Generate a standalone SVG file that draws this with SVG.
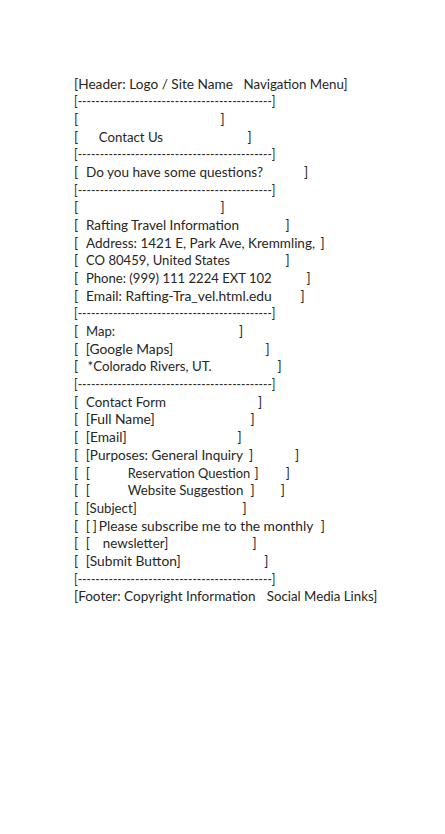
<svg xmlns="http://www.w3.org/2000/svg" width="445" height="834" viewBox="0 0 445 834">
<style>
text{font-family:Lato,"Open Sans","Liberation Sans",sans-serif;font-size:13.5px;fill:#262626;}
</style>
<rect width="445" height="834" fill="#ffffff"/>
<g id="header">
<text x="74" y="88.7" textLength="159" lengthAdjust="spacingAndGlyphs">[Header: Logo / Site Name</text>
<text x="243.5" y="88.7" textLength="104" lengthAdjust="spacingAndGlyphs">Navigation Menu]</text>
</g>
<g id="dividers">
<text x="74" y="106.4" textLength="201.5" lengthAdjust="spacingAndGlyphs">[--------------------------------------------]</text>
<text x="74" y="159.4" textLength="201.5" lengthAdjust="spacingAndGlyphs">[--------------------------------------------]</text>
<text x="74" y="194.7" textLength="201.5" lengthAdjust="spacingAndGlyphs">[--------------------------------------------]</text>
<text x="74" y="318.4" textLength="201.5" lengthAdjust="spacingAndGlyphs">[--------------------------------------------]</text>
<text x="74" y="389.1" textLength="201.5" lengthAdjust="spacingAndGlyphs">[--------------------------------------------]</text>
<text x="74" y="583.5" textLength="201.5" lengthAdjust="spacingAndGlyphs">[--------------------------------------------]</text>
</g>
<g id="title">
<text x="74" y="124.0">[</text><text x="220.5" y="124.0">]</text>
<text x="74" y="141.7">[</text>
<text x="98.8" y="141.7" textLength="64.2" lengthAdjust="spacingAndGlyphs">Contact Us</text>
<text x="247.5" y="141.7">]</text>
</g>
<g id="questions">
<text x="74" y="177.1">[</text>
<text x="86" y="177.1" textLength="177" lengthAdjust="spacingAndGlyphs">Do you have some questions?</text>
<text x="304" y="177.1">]</text>
</g>
<g id="info">
<text x="74" y="212.4">[</text><text x="220.5" y="212.4">]</text>
<text x="74" y="230.1">[</text>
<text x="86" y="230.1" textLength="153" lengthAdjust="spacingAndGlyphs">Rafting Travel Information</text>
<text x="285.5" y="230.1">]</text>
<text x="74" y="247.7">[</text>
<text x="86" y="247.7" textLength="229" lengthAdjust="spacingAndGlyphs">Address: 1421 E, Park Ave, Kremmling,</text>
<text x="320.5" y="247.7">]</text>
<text x="74" y="265.4">[</text>
<text x="86" y="265.4" textLength="144" lengthAdjust="spacingAndGlyphs">CO 80459, United States</text>
<text x="285.5" y="265.4">]</text>
<text x="74" y="283.1">[</text>
<text x="86" y="283.1" textLength="185.7" lengthAdjust="spacingAndGlyphs">Phone: (999) 111 2224 EXT 102</text>
<text x="306.5" y="283.1">]</text>
<text x="74" y="300.7">[</text>
<text x="86" y="300.7" textLength="185.7" lengthAdjust="spacingAndGlyphs">Email: Rafting-Tra_vel.html.edu</text>
<text x="300.5" y="300.7">]</text>
</g>
<g id="map">
<text x="74" y="336.1">[</text>
<text x="86" y="336.1" textLength="29" lengthAdjust="spacingAndGlyphs">Map:</text>
<text x="239" y="336.1">]</text>
<text x="74" y="353.8">[</text>
<text x="85.7" y="353.8" textLength="87.5" lengthAdjust="spacingAndGlyphs">[Google Maps]</text>
<text x="265.5" y="353.8">]</text>
<text x="74" y="371.4">[</text>
<text x="87.5" y="371.4" textLength="124.2" lengthAdjust="spacingAndGlyphs">*Colorado Rivers, UT.</text>
<text x="277.5" y="371.4">]</text>
</g>
<g id="contact-form">
<text x="74" y="406.8">[</text>
<text x="86" y="406.8" textLength="80" lengthAdjust="spacingAndGlyphs">Contact Form</text>
<text x="258" y="406.8">]</text>
<text x="74" y="424.4">[</text>
<text x="85.7" y="424.4" textLength="69" lengthAdjust="spacingAndGlyphs">[Full Name]</text>
<text x="250.5" y="424.4">]</text>
<text x="74" y="442.1">[</text>
<text x="85.7" y="442.1" textLength="41" lengthAdjust="spacingAndGlyphs">[Email]</text>
<text x="237.5" y="442.1">]</text>
<text x="74" y="459.8">[</text>
<text x="85.7" y="459.8" textLength="157.3" lengthAdjust="spacingAndGlyphs">[Purposes: General Inquiry</text>
<text x="249" y="459.8">]</text>
<text x="295" y="459.8">]</text>
<text x="74" y="477.5">[</text>
<text x="85.7" y="477.5">[</text>
<text x="127.8" y="477.5" textLength="122.5" lengthAdjust="spacingAndGlyphs">Reservation Question</text>
<text x="254.5" y="477.5">]</text>
<text x="285.8" y="477.5">]</text>
<text x="74" y="495.1">[</text>
<text x="85.7" y="495.1">[</text>
<text x="127.8" y="495.1" textLength="115.5" lengthAdjust="spacingAndGlyphs">Website Suggestion</text>
<text x="250.5" y="495.1">]</text>
<text x="280.8" y="495.1">]</text>
<text x="74" y="512.8">[</text>
<text x="85.7" y="512.8" textLength="51" lengthAdjust="spacingAndGlyphs">[Subject]</text>
<text x="242.5" y="512.8">]</text>
<text x="74" y="530.5">[</text>
<text x="85.7" y="530.5">[</text>
<text x="92.8" y="530.5">]</text>
<text x="98.8" y="530.5" textLength="214.5" lengthAdjust="spacingAndGlyphs">Please subscribe me to the monthly</text>
<text x="320.8" y="530.5">]</text>
<text x="74" y="548.1">[</text>
<text x="85.7" y="548.1">[</text>
<text x="102.8" y="548.1" textLength="65.5" lengthAdjust="spacingAndGlyphs">newsletter]</text>
<text x="252.5" y="548.1">]</text>
<text x="74" y="565.8">[</text>
<text x="85.7" y="565.8" textLength="95" lengthAdjust="spacingAndGlyphs">[Submit Button]</text>
<text x="264.2" y="565.8">]</text>
</g>
<g id="footer">
<text x="74" y="601.1" textLength="181.5" lengthAdjust="spacingAndGlyphs">[Footer: Copyright Information</text>
<text x="266.8" y="601.1" textLength="110.5" lengthAdjust="spacingAndGlyphs">Social Media Links]</text>
</g>
</svg>
